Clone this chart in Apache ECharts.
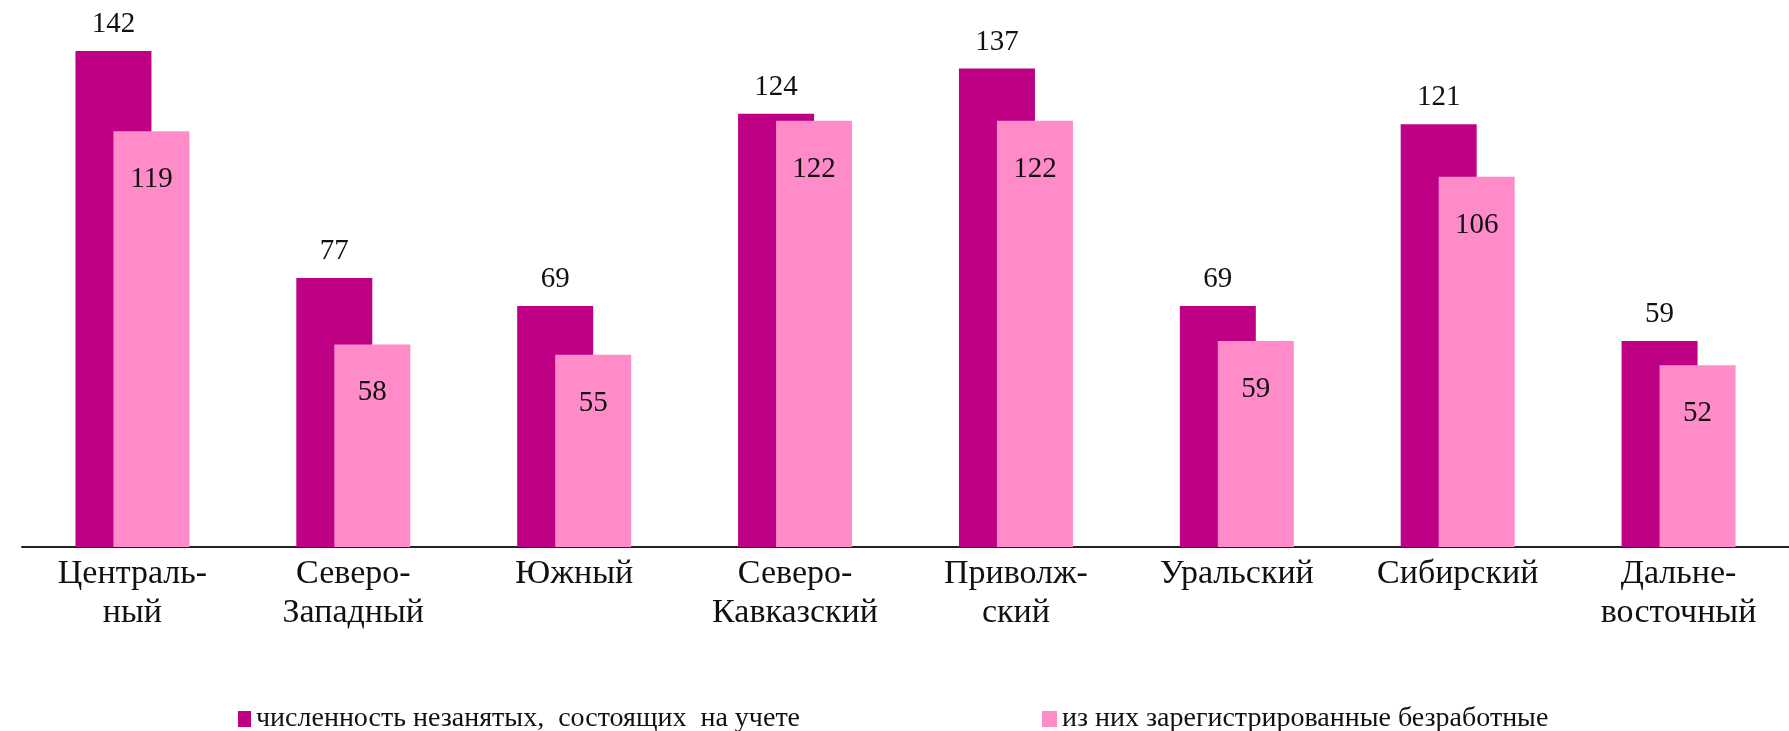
<!DOCTYPE html>
<html>
<head>
<meta charset="utf-8">
<title>Численность незанятых по федеральным округам</title>
<script src="https://cdn.jsdelivr.net/npm/echarts@6/dist/echarts.min.js"></script>
<style>
    html, body { margin: 0; padding: 0; background: #fff; }
    #main { width: 1789px; height: 731px; }
</style>
</head>
<body>
<div id="main"></div>
<script>
// данные с картинки
var regions = ['Централь-\nный', 'Северо-\nЗападный', 'Южный', 'Северо-\nКавказский',
    'Приволж-\nский', 'Уральский', 'Сибирский', 'Дальне-\nвосточный'];
var seriesNames = ['численность незанятых,  состоящих  на учете', 'из них зарегистрированные безработные'];
var notEmployed = [142, 77, 69, 124, 137, 69, 121, 59];
var unemployed = [119, 58, 55, 122, 122, 59, 106, 52];

var serif = '"Liberation Serif", "Times New Roman", serif';

var MyCharts = {
    getChart: function () {
        var myChart = echarts.init(document.getElementById('main'));
        var option = {
            animation: false,
            backgroundColor: '#fff',
            textStyle: { fontFamily: serif },
            legend: [{
                data: [seriesNames[0]],
                left: 233,
                top: 700,
                icon: 'rect',
                itemWidth: 13,
                itemHeight: 16,
                textStyle: { fontFamily: serif, fontSize: 28, color: '#111' }
            }, {
                data: [seriesNames[1]],
                left: 1037,
                top: 700,
                icon: 'rect',
                itemWidth: 15,
                itemHeight: 16,
                textStyle: { fontFamily: serif, fontSize: 28, color: '#111' }
            }],
            grid: {
                left: 22,
                top: 23,
                width: 1771,
                bottom: 184
            },
            xAxis: {
                type: 'category',
                data: regions,
                axisLine: { lineStyle: { color: '#222', width: 2 } },
                axisTick: { length: 9, lineStyle: { color: '#222', width: 2 } },
                axisLabel: {
                    margin: 8,
                    fontFamily: serif,
                    fontSize: 34,
                    lineHeight: 39,
                    color: '#111',
                    interval: 0
                }
            },
            yAxis: {
                type: 'value',
                min: 0,
                max: 150,
                show: false
            },
            series: [{
                name: seriesNames[0],
                type: 'bar',
                data: notEmployed,
                barWidth: 76,
                barGap: '-50%',
                itemStyle: { color: '#BE0085' },
                label: {
                    show: true,
                    position: 'top',
                    distance: 12,
                    fontFamily: serif,
                    fontSize: 29,
                    color: '#111'
                }
            }, {
                name: seriesNames[1],
                type: 'bar',
                data: unemployed,
                barWidth: 76,
                itemStyle: { color: '#FF8CC8' },
                label: {
                    show: true,
                    position: 'insideTop',
                    distance: 34,
                    fontFamily: serif,
                    fontSize: 29,
                    color: '#111'
                }
            }]
        };
        myChart.setOption(option);
    }
};

window.onload = function () {
    MyCharts.getChart();
};
</script>
</body>
</html>
